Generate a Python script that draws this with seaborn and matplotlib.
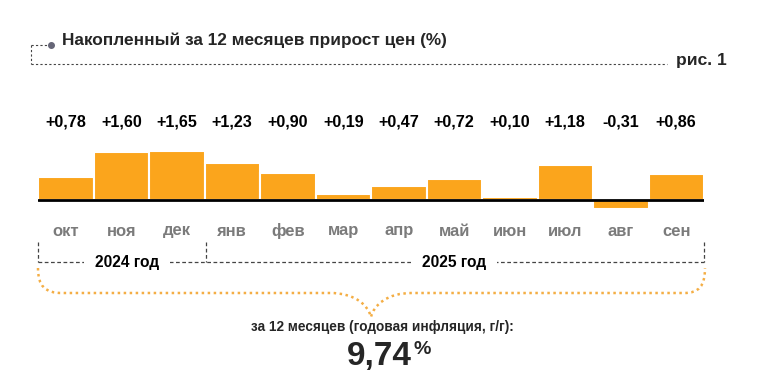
import numpy as np
import pandas as pd
import matplotlib.pyplot as plt
import matplotlib.transforms as mtransforms
from matplotlib.path import Path
from matplotlib.patches import PathPatch
import seaborn as sns

# data
months = ['окт', 'ноя', 'дек', 'янв', 'фев', 'мар', 'апр', 'май', 'июн', 'июл', 'авг', 'сен']
values = [0.78, 1.60, 1.65, 1.23, 0.90, 0.19, 0.47, 0.72, 0.10, 1.18, -0.31, 0.86]
years = ['2024 год', '2025 год']
annual = '9,74'

sns.set_style('white')
plt.rcParams['font.family'] = ['Liberation Sans', 'DejaVu Sans']

bar_color = '#FBA51C'
dash_color = '#444444'

df = pd.DataFrame({'month': months, 'value': values})

W, H = 761, 377
fig = plt.figure(figsize=(W / 100, H / 100), dpi=100)

# overlay in pixel coords for decorations
over = fig.add_axes([0, 0, 1, 1])
over.set_xlim(0, W)
over.set_ylim(H, 0)
over.axis('off')

# bar axes: x from 38 to 704 px, baseline at y=200 px
px_unit = 29.7
top_px, bot_px = 140, 215
ax = fig.add_axes([38 / W, (H - bot_px) / H, (704 - 38) / W, (bot_px - top_px) / H])
sns.barplot(data=df, x='month', y='value', color=bar_color, width=1.0,
            edgecolor='white', linewidth=1.5, saturation=1, ax=ax)
ax.set_xlim(-0.5, 11.5)
ax.set_ylim(-(bot_px - 200) / px_unit, (200 - top_px) / px_unit)
ax.axhline(0, color='black', linewidth=2)
ax.axis('off')

mix = mtransforms.blended_transform_factory(ax.transData, over.transData)
for i, v in enumerate(values):
    ax.text(i, 122, ('%+.2f' % v).replace('.', ','), transform=mix, ha='center', va='center',
            fontsize=11.6, fontweight='bold', color='black')
    ax.text(i, 231, months[i], transform=mix, ha='center', va='center',
            fontsize=12, fontweight='bold', color='#7b7b7b')

# year brackets
ls_d = (0, (3, 2))
over.plot([38, 704], [262, 262], color=dash_color, lw=0.9, ls=ls_d, zorder=1)
for x in [38, 206, 704]:
    over.plot([x, x], [242, 262], color=dash_color, lw=0.9, ls=ls_d)
year_x = [(-0.5 + 2.5) / 2 + 0.1, (2.5 + 11.5) / 2]
for yx, lab in zip(year_x, years):
    ax.text(yx, 263, lab, transform=mix, ha='center', va='center', fontsize=11.2,
            fontweight='bold', color='black',
            bbox=dict(facecolor='white', edgecolor='none', pad=8))

# orange dotted brace
verts = [(38, 268), (38, 286), (45, 293), (62, 293),
         (330, 293),
         (355, 293), (368, 305), (371, 317),
         (374, 305), (387, 293), (412, 293),
         (684, 293),
         (699, 293), (705, 286), (705, 268)]
codes = [Path.MOVETO, Path.CURVE4, Path.CURVE4, Path.CURVE4,
         Path.LINETO,
         Path.CURVE4, Path.CURVE4, Path.CURVE4,
         Path.CURVE4, Path.CURVE4, Path.CURVE4,
         Path.LINETO,
         Path.CURVE4, Path.CURVE4, Path.CURVE4]
over.add_patch(PathPatch(Path(verts, codes), facecolor='none', edgecolor='#F4AE45',
                         lw=1.8, ls=(0, (1, 1.4))))

over.text(382, 327, 'за 12 месяцев (годовая инфляция, г/г):', ha='center', va='center',
          fontsize=9.8, fontweight='bold')
over.text(412, 356, annual, ha='right', va='center', fontsize=24, fontweight='bold')
over.text(413, 350, '%', ha='left', va='center', fontsize=14, fontweight='bold')

# title frame
over.plot([31, 50], [45, 45], color=dash_color, lw=0.8, ls=(0, (2, 2)))
over.plot([51], [45], marker='o', ms=4, color='#666677')
over.plot([31, 31], [45, 64], color=dash_color, lw=0.8, ls=(0, (2, 2)))
over.plot([31, 667], [64, 64], color=dash_color, lw=0.8, ls=(0, (2, 2)))
over.text(62, 40, 'Накопленный за 12 месяцев прирост цен (%)', ha='left', va='center',
          fontsize=12.4, fontweight='bold')
over.text(676, 60, 'рис. 1', ha='left', va='center', fontsize=12.6, fontweight='bold')

fig.savefig('out.png', dpi=100)
